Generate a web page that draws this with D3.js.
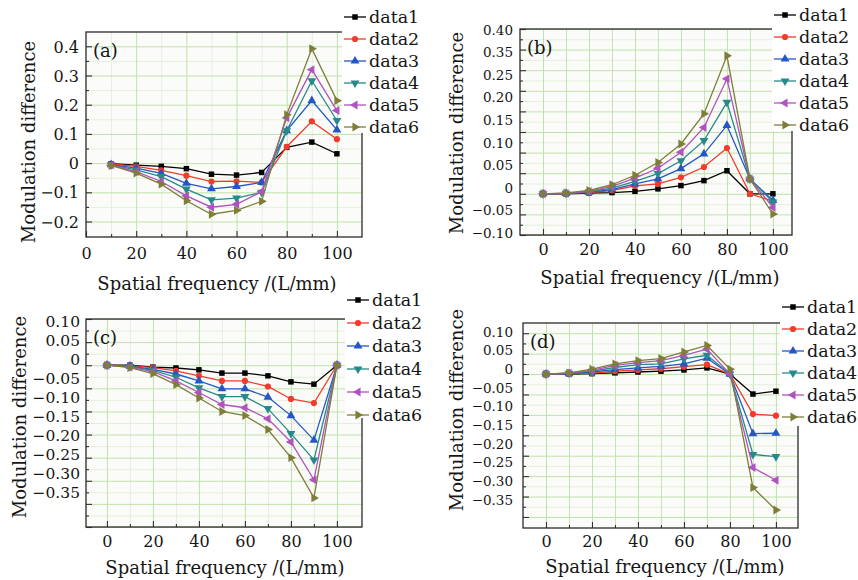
<!DOCTYPE html>
<html>
<head>
<meta charset="utf-8">
<script src="https://cdn.jsdelivr.net/npm/d3@7"></script>
<style>
  body { margin: 0; background: #fff; }
  svg { display: block; }
  text { font-family: "DejaVu Serif", "Liberation Serif", serif; fill: #151515; }
</style>
</head>
<body>
<svg id="chart" width="858" height="580"></svg>
<script>
// ---- data ----
const seriesNames = ["data1", "data2", "data3", "data4", "data5", "data6"];
const seriesColors = ["#000000", "#f23b2b", "#2456c4", "#27898a", "#b052bf", "#7e7d3a"];

const freqA = [10, 20, 30, 40, 50, 60, 70, 80, 90, 100];
const freqBCD = [0, 10, 20, 30, 40, 50, 60, 70, 80, 90, 100];

const valuesA = [
  [-0.002, -0.007, -0.011, -0.019, -0.038, -0.041, -0.032, 0.054, 0.072, 0.032],
  [-0.003, -0.011, -0.025, -0.043, -0.063, -0.062, -0.066, 0.056, 0.143, 0.082],
  [-0.005, -0.017, -0.035, -0.069, -0.088, -0.080, -0.066, 0.111, 0.214, 0.114],
  [-0.006, -0.023, -0.046, -0.089, -0.126, -0.120, -0.100, 0.111, 0.282, 0.146],
  [-0.007, -0.029, -0.063, -0.112, -0.151, -0.141, -0.098, 0.155, 0.320, 0.180],
  [-0.008, -0.034, -0.072, -0.129, -0.175, -0.162, -0.131, 0.166, 0.392, 0.214]
];
const valuesB = [
  [0, 0, 0.002, 0.003, 0.006, 0.012, 0.020, 0.032, 0.056, 0, 0],
  [0, 0.001, 0.003, 0.008, 0.019, 0.024, 0.040, 0.065, 0.111, 0, -0.018],
  [0, 0.001, 0.004, 0.010, 0.024, 0.036, 0.061, 0.097, 0.166, 0.036, -0.016],
  [0, 0.001, 0.005, 0.014, 0.030, 0.049, 0.080, 0.129, 0.222, 0.036, -0.020],
  [0, 0.001, 0.006, 0.018, 0.038, 0.062, 0.101, 0.161, 0.279, 0.036, -0.033],
  [0, 0.002, 0.008, 0.022, 0.045, 0.076, 0.121, 0.194, 0.335, 0.036, -0.049]
];
const valuesC = [
  [0, 0, -0.004, -0.006, -0.010, -0.017, -0.017, -0.023, -0.036, -0.041, 0],
  [0, -0.001, -0.005, -0.012, -0.023, -0.034, -0.034, -0.046, -0.073, -0.082, 0],
  [0, -0.002, -0.009, -0.019, -0.034, -0.051, -0.051, -0.069, -0.109, -0.162, 0],
  [0, -0.003, -0.011, -0.026, -0.049, -0.068, -0.068, -0.094, -0.148, -0.205, 0],
  [0, -0.004, -0.014, -0.034, -0.059, -0.085, -0.092, -0.116, -0.166, -0.248, 0],
  [0, -0.005, -0.018, -0.042, -0.071, -0.100, -0.109, -0.139, -0.200, -0.287, 0]
];
const valuesD = [
  [0, 0, 0.001, 0.003, 0.005, 0.007, 0.010, 0.015, 0, -0.049, -0.042],
  [0, 0.001, 0.002, 0.007, 0.010, 0.013, 0.018, 0.023, 0, -0.098, -0.102],
  [0, 0.001, 0.005, 0.011, 0.015, 0.019, 0.025, 0.039, 0, -0.146, -0.145],
  [0, 0.002, 0.007, 0.016, 0.023, 0.025, 0.037, 0.046, 0, -0.197, -0.202],
  [0, 0.002, 0.009, 0.021, 0.028, 0.033, 0.046, 0.061, 0, -0.229, -0.260],
  [0, 0.003, 0.012, 0.025, 0.033, 0.038, 0.054, 0.070, 0.012, -0.278, -0.333]
];

const xTickValues = [0, 20, 40, 60, 80, 100];
const yLabelsA = ["0.4", "0.3", "0.2", "0.1", "0", "\u22120.1", "\u22120.2"];
const yLabelsB = ["0.40", "0.35", "0.25", "0.20", "0.15", "0.10", "0.05", "0", "\u22120.05", "\u22120.10"];
const yLabelsC = ["0.10", "0.05", "0", "\u22120.05", "\u22120.10", "\u22120.15", "\u22120.20", "\u22120.25", "\u22120.30", "\u22120.35"];
const yLabelsD = yLabelsC;

const xTitle = "Spatial frequency /(L/mm)";
const yTitle = "Modulation difference";

// ---- layout ----
const titleSize = 18, legendSize = 17.5, tickSize = 16;

const panels = [
  { tag: "(a)", x: freqA, values: valuesA, labels: yLabelsA, labelSize: 16,
    left: 86, right: 362, top: 32, bottom: 237, xDomain: [0, 110], yDomain: [-0.253, 0.449],
    yStep: 0.1, yGridFrom: -0.2, xMinorGrid: false, labelRange: [47, 222], labelX: 79,
    xPad: 11, xTitleY: 283, xTitleX: 217, yTitleX: 28, yTitleY: 142,
    legend: { x: 342, y: 0, w: 88, h: 133, rowY: 17, rowGap: 22 } },
  { tag: "(b)", x: freqBCD, values: valuesB, labels: yLabelsB, labelSize: 13.5,
    left: 520, right: 792, top: 29, bottom: 235, xDomain: [-10, 108.3], yDomain: [-0.10, 0.40],
    yStep: 0.05, yGridFrom: -0.10, xMinorGrid: true, labelRange: [30, 233], labelX: 513,
    xPad: 9, xTitleY: 277, xTitleX: 660, yTitleX: 456, yTitleY: 133,
    legend: { x: 772, y: 0, w: 86, h: 131, rowY: 15, rowGap: 22 } },
  { tag: "(c)", x: freqBCD, values: valuesC, labels: yLabelsC, labelSize: 15.5,
    left: 86, right: 362, top: 319, bottom: 527, xDomain: [-9.1, 110.9], yDomain: [-0.35, 0.10],
    yStep: 0.05, yGridFrom: -0.35, xMinorGrid: false, labelRange: [322, 493], labelX: 80,
    xPad: 9, xTitleY: 567, xTitleX: 225, yTitleX: 19, yTitleY: 417,
    legend: { x: 345, y: 288, w: 85, h: 130, rowY: 300, rowGap: 23 } },
  { tag: "(d)", x: freqBCD, values: valuesD, labels: yLabelsD, labelSize: 13.5,
    left: 523, right: 798, top: 323, bottom: 528, xDomain: [-10, 109.6], yDomain: [-0.377, 0.125],
    yStep: 0.05, yGridFrom: -0.35, xMinorGrid: true, labelRange: [332, 500], labelX: 513,
    xPad: 8, xTitleY: 566, xTitleX: 665, yTitleX: 456, yTitleY: 410,
    legend: { x: 780, y: 290, w: 78, h: 136, rowY: 307, rowGap: 22 } }
];

const symbolTypes = [d3.symbolSquare, d3.symbolCircle, d3.symbolTriangle, d3.symbolTriangle, d3.symbolTriangle, d3.symbolTriangle];
const symbolRotate = [0, 0, 0, 180, -90, 90];
const symbolSize = [30, 30, 34, 34, 34, 34];

const svg = d3.select("#chart");

const drawPanel = p => {
  const x = d3.scaleLinear().domain(p.xDomain).range([p.left, p.right]);
  const y = d3.scaleLinear().domain(p.yDomain).range([p.bottom, p.top]);
  const w = p.right - p.left, h = p.bottom - p.top;
  const g = svg.append("g");

  g.append("rect")
    .attr("x", p.left).attr("y", p.top).attr("width", w).attr("height", h)
    .attr("fill", "#fbfcf9");

  // grid: minor first, then major
  const yMajor = d3.range(p.yGridFrom, p.yDomain[1] + 1e-9, p.yStep).map(v => +v.toFixed(3));
  const yMinor = yMajor.map(v => +(v + p.yStep / 2).toFixed(3)).filter(v => v < p.yDomain[1]);
  const xMinor = d3.range(10, 101, 20);

  const grid = (axis, color) => g.append("g")
    .call(axis)
    .call(s => s.select(".domain").remove())
    .call(s => s.selectAll("line").attr("stroke", color).attr("stroke-width", 1));

  grid(d3.axisLeft(y).tickValues(yMinor).tickSize(-w).tickFormat(""), "#e4efdb")
    .attr("transform", `translate(${p.left},0)`);
  grid(d3.axisBottom(x).tickValues(xMinor).tickSize(-h).tickFormat(""), p.xMinorGrid ? "#c4e4b2" : "#e4efdb")
    .attr("transform", `translate(0,${p.bottom})`);
  grid(d3.axisLeft(y).tickValues(yMajor).tickSize(-w).tickFormat(""), "#bfe2aa")
    .attr("transform", `translate(${p.left},0)`);
  grid(d3.axisBottom(x).tickValues(xTickValues.filter(v => x(v) > p.left + 1)).tickSize(-h).tickFormat(""), "#bfe2aa")
    .attr("transform", `translate(0,${p.bottom})`);

  // inward tick marks
  const ticks = (axis, tr) => g.append("g")
    .attr("transform", tr)
    .call(axis)
    .call(s => s.select(".domain").remove())
    .call(s => s.selectAll("line").attr("stroke", "#333").attr("stroke-width", 1.1));
  ticks(d3.axisLeft(y).tickValues(yMajor).tickSize(-6).tickFormat(""), `translate(${p.left},0)`);
  ticks(d3.axisLeft(y).tickValues(yMinor).tickSize(-3).tickFormat(""), `translate(${p.left},0)`);
  ticks(d3.axisBottom(x).tickValues(xMinor).tickSize(-3).tickFormat(""), `translate(0,${p.bottom})`);

  // bottom axis with labels
  g.append("g")
    .attr("transform", `translate(0,${p.bottom})`)
    .call(d3.axisBottom(x).tickValues(xTickValues).tickSize(-6).tickPadding(p.xPad))
    .call(s => s.select(".domain").remove())
    .call(s => s.selectAll("line").attr("stroke", "#333").attr("stroke-width", 1.1))
    .call(s => s.selectAll("text").attr("font-size", tickSize).attr("font-family", null).attr("fill", "#151515"));

  // left tick labels (placed as printed in the figure)
  const labelScale = d3.scalePoint().domain(p.labels).range(p.labelRange);
  g.append("g")
    .attr("transform", `translate(${p.labelX},0)`)
    .call(d3.axisLeft(labelScale).tickSize(0).tickPadding(0))
    .call(s => s.select(".domain").remove())
    .call(s => s.selectAll("text").attr("font-size", p.labelSize).attr("font-family", null).attr("fill", "#151515"));

  // frame
  g.append("rect")
    .attr("x", p.left).attr("y", p.top).attr("width", w).attr("height", h)
    .attr("fill", "none").attr("stroke", "#2a2a2a").attr("stroke-width", 1.3);

  // series
  const line = d3.line().x(d => x(d[0])).y(d => y(d[1]));
  p.values.forEach((vals, i) => {
    const pts = vals.map((v, k) => [p.x[k], v]);
    g.append("path")
      .datum(pts)
      .attr("fill", "none")
      .attr("stroke", seriesColors[i])
      .attr("stroke-width", 1.3)
      .attr("d", line);
    g.selectAll(null)
      .data(pts)
      .join("path")
      .attr("d", d3.symbol().type(symbolTypes[i]).size(symbolSize[i]))
      .attr("transform", d => `translate(${x(d[0])},${y(d[1])}) rotate(${symbolRotate[i]})`)
      .attr("fill", seriesColors[i]);
  });

  // panel tag
  g.append("text")
    .attr("x", p.left + 7).attr("y", p.top + 18)
    .attr("dominant-baseline", "central")
    .attr("font-size", titleSize)
    .text(p.tag);

  // axis titles
  g.append("text")
    .attr("x", p.xTitleX).attr("y", p.xTitleY)
    .attr("text-anchor", "middle").attr("dominant-baseline", "central")
    .attr("font-size", titleSize)
    .text(xTitle);
  g.append("text")
    .attr("transform", `translate(${p.yTitleX},${p.yTitleY}) rotate(-90)`)
    .attr("text-anchor", "middle").attr("dominant-baseline", "central")
    .attr("font-size", titleSize)
    .text(yTitle);

  // legend
  const L = p.legend;
  const lg = g.append("g");
  lg.append("rect")
    .attr("x", L.x).attr("y", L.y).attr("width", L.w).attr("height", L.h)
    .attr("fill", "#fff");
  seriesNames.forEach((name, i) => {
    const ry = L.rowY + i * L.rowGap;
    lg.append("line")
      .attr("x1", L.x + 2).attr("x2", L.x + 24).attr("y1", ry).attr("y2", ry)
      .attr("stroke", seriesColors[i]).attr("stroke-width", 1.3);
    lg.append("path")
      .attr("d", d3.symbol().type(symbolTypes[i]).size(symbolSize[i])())
      .attr("transform", `translate(${L.x + 13},${ry}) rotate(${symbolRotate[i]})`)
      .attr("fill", seriesColors[i]);
    lg.append("text")
      .attr("x", L.x + 27).attr("y", ry)
      .attr("dominant-baseline", "central")
      .attr("font-size", legendSize)
      .text(name);
  });
};

panels.forEach(drawPanel);
</script>
</body>
</html>
